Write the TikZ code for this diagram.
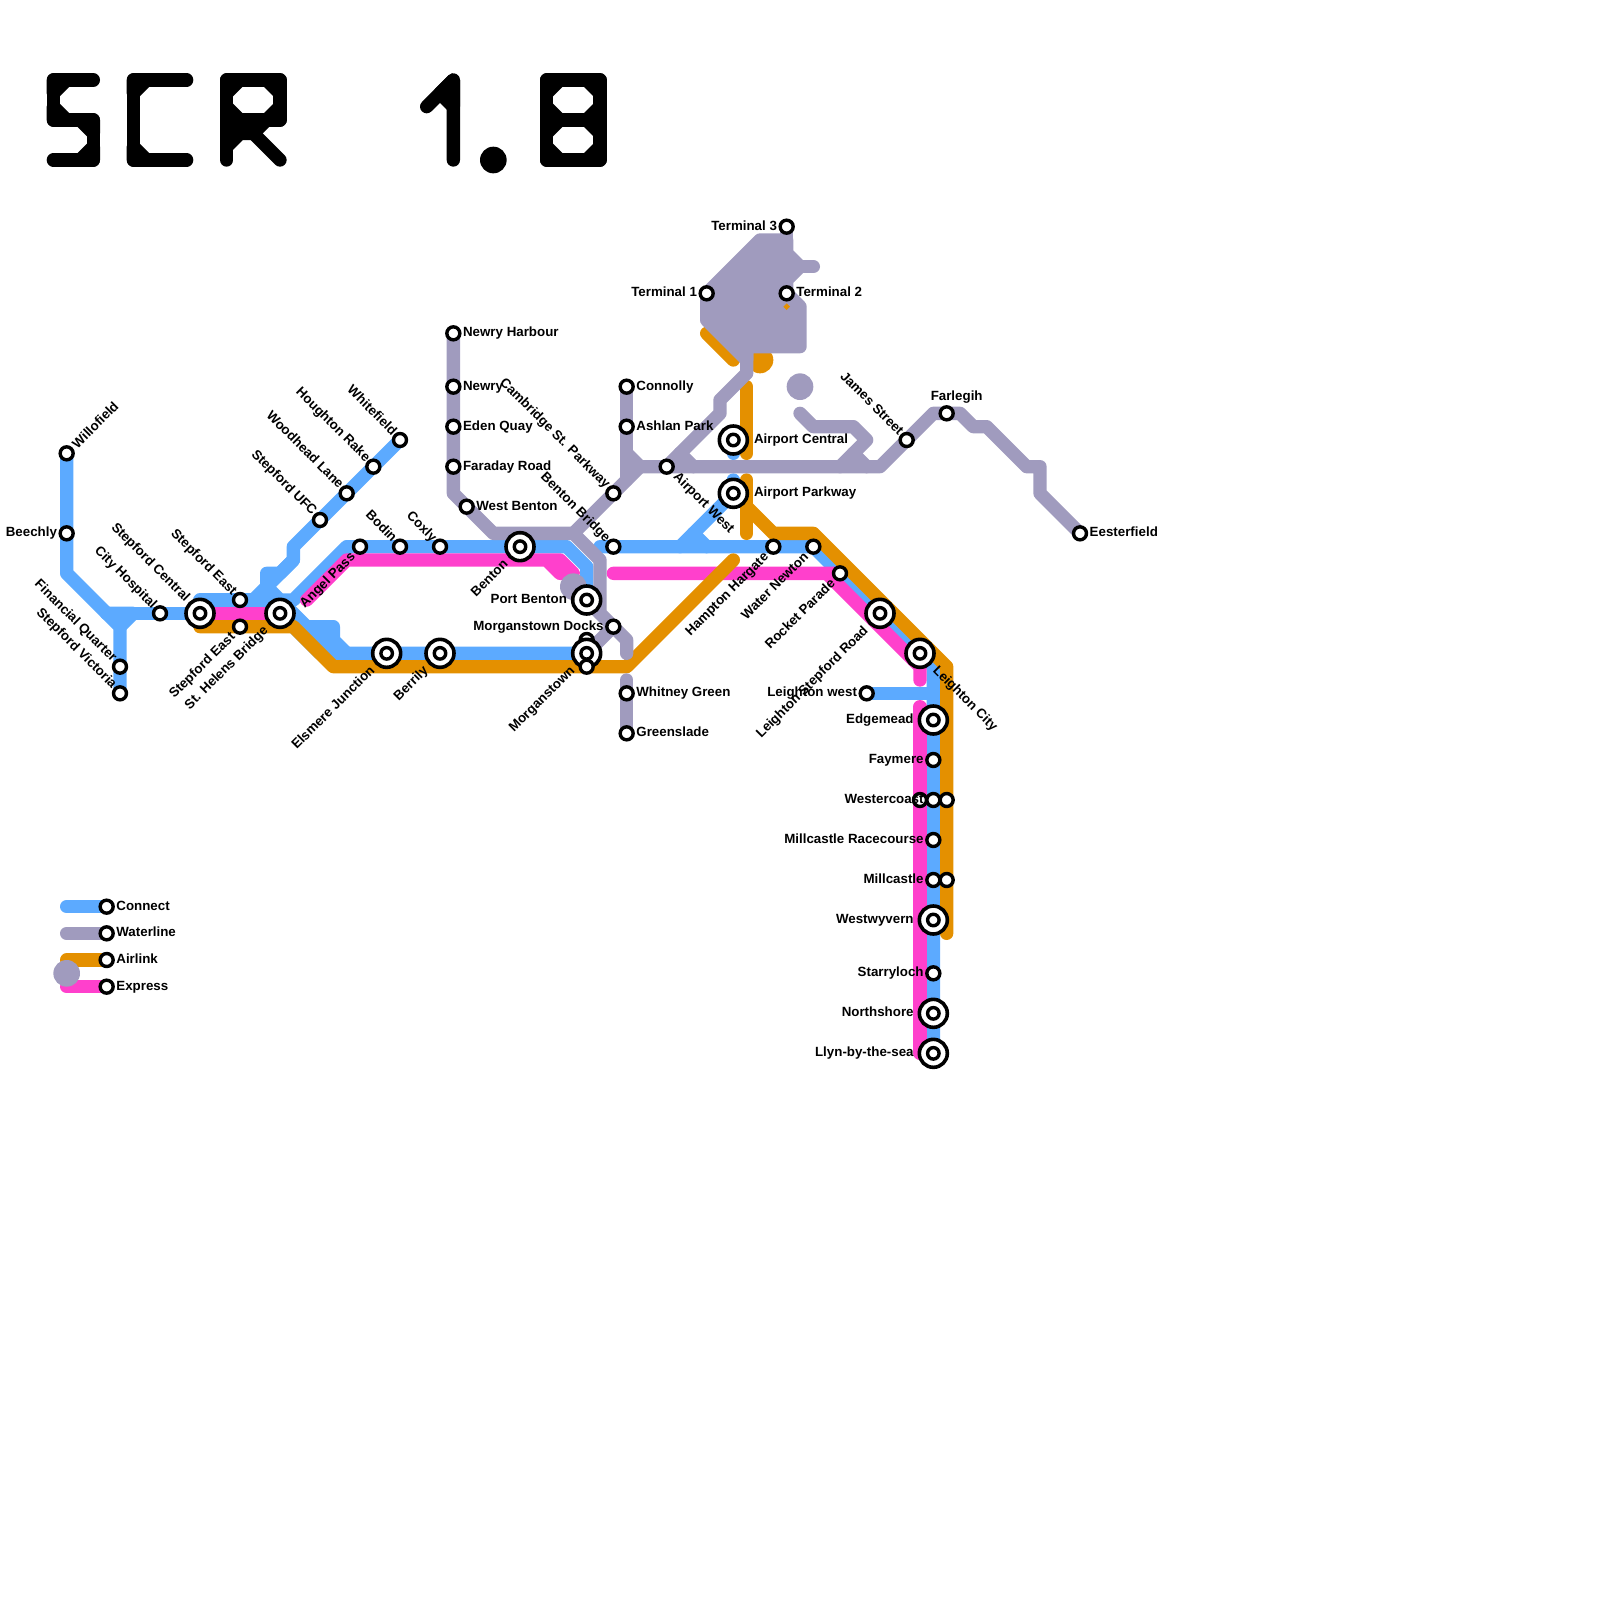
\documentclass[tikz,border=0pt]{standalone}
\usepackage{fontspec}
\setmainfont{Liberation Sans}
\usetikzlibrary{calc}
\definecolor{cblue}{RGB}{92,170,255}
\definecolor{cgray}{RGB}{160,155,190}
\definecolor{corange}{RGB}{228,144,0}
\definecolor{cpink}{RGB}{255,64,204}
\tikzset{
  route/.style={line width=13.333pt,line cap=round,line join=round},
  connect/.style={route,draw=cblue},
  water/.style={route,draw=cgray},
  air/.style={route,draw=corange},
  express/.style={route,draw=cpink},
  ttl/.style={route,draw=black},
  ttf/.style={route,draw=black,fill=black},
  smallst/.style={circle,draw=black,fill=white,line width=3.4pt,inner sep=0pt,outer sep=0pt,minimum size=13pt},
  bigouter/.style={circle,draw=black,fill=white,line width=3.6pt,inner sep=0pt,outer sep=0pt,minimum size=28pt},
  biginner/.style={circle,draw=black,fill=white,line width=3.4pt,inner sep=0pt,outer sep=0pt,minimum size=11.5pt},
  lbl/.style={inner sep=0pt,outer sep=0pt,text height=9.5pt,text depth=0pt,font=\fontsize{13.33}{15}\selectfont\bfseries}
}
\newcommand{\stn}[1]{\node[smallst] (st-#1) at (#1) {};}
\newcommand{\bigst}[1]{\node[bigouter] (st-#1) at (#1) {};\node[biginner] (in-#1) at (#1) {};}
% labels: small offset about .75u, large about 1.5u along the direction of the text
\newcommand{\lL}[2]{\node[lbl,anchor=east] (lb-#1) at ($(#1)+(-.73,-.1)$) {#2};}
\newcommand{\lR}[2]{\node[lbl,anchor=west] (lb-#1) at ($(#1)+(.73,-.1)$) {#2};}
\newcommand{\LL}[2]{\node[lbl,anchor=east] (lb-#1) at ($(#1)+(-1.48,-.1)$) {#2};}
\newcommand{\LR}[2]{\node[lbl,anchor=west] (lb-#1) at ($(#1)+(1.55,-.1)$) {#2};}
\newcommand{\lUL}[2]{\node[lbl,anchor=east,rotate=-45] (lb-#1) at ($(#1)+(-.37,-.57)$) {#2};}
\newcommand{\LUL}[2]{\node[lbl,anchor=east,rotate=-45] (lb-#1) at ($(#1)+(-.9,-1.1)$) {#2};}
\newcommand{\lUR}[2]{\node[lbl,anchor=west,rotate=45] (lb-#1) at ($(#1)+(.57,-.57)$) {#2};}
\newcommand{\lDL}[2]{\node[lbl,anchor=east,rotate=45] (lb-#1) at ($(#1)+(-.57,.57)$) {#2};}
\newcommand{\LDL}[2]{\node[lbl,anchor=east,rotate=45] (lb-#1) at ($(#1)+(-1.1,1.1)$) {#2};}
\newcommand{\lDR}[2]{\node[lbl,anchor=west,rotate=-45] (lb-#1) at ($(#1)+(.72,.57)$) {#2};}
\newcommand{\LDR}[2]{\node[lbl,anchor=west,rotate=-45] (lb-#1) at ($(#1)+(1.18,1.1)$) {#2};}
\begin{document}
\begin{tikzpicture}[x=13.3333pt,y=-13.3333pt]
\useasboundingbox (0,0) rectangle (120,120);
% station positions
\coordinate (willofield) at (5,34);
\coordinate (beechly) at (5,40);
\coordinate (cityhosp) at (12,46);
\coordinate (finq) at (9,50);
\coordinate (stvic) at (9,52);
\coordinate (stcentral) at (15,46);
\coordinate (steastA) at (18,45);
\coordinate (steastB) at (18,47);
\coordinate (sthelens) at (21,46);
\coordinate (stufc) at (24,39);
\coordinate (woodhead) at (26,37);
\coordinate (houghton) at (28,35);
\coordinate (whitefield) at (30,33);
\coordinate (angel) at (27,41);
\coordinate (bodin) at (30,41);
\coordinate (coxly) at (33,41);
\coordinate (benton) at (39,41);
\coordinate (elsmere) at (29,49);
\coordinate (berrily) at (33,49);
\coordinate (portbenton) at (44,45);
\coordinate (morgan) at (44,49);
\coordinate (morganA) at (44,48);
\coordinate (morganB) at (44,50);
\coordinate (docks) at (46,47);
\coordinate (bentonbr) at (46,41);
\coordinate (cambridge) at (46,37);
\coordinate (airwest) at (50,35);
\coordinate (connolly) at (47,29);
\coordinate (ashlan) at (47,32);
\coordinate (harbour) at (34,25);
\coordinate (newry) at (34,29);
\coordinate (eden) at (34,32);
\coordinate (faraday) at (34,35);
\coordinate (westbenton) at (35,38);
\coordinate (whitney) at (47,52);
\coordinate (greenslade) at (47,55);
\coordinate (aircentral) at (55,33);
\coordinate (airparkway) at (55,37);
\coordinate (tthree) at (59,17);
\coordinate (tone) at (53,22);
\coordinate (ttwo) at (59,22);
\coordinate (james) at (68,33);
\coordinate (farlegih) at (71,31);
\coordinate (eesterfield) at (81,40);
\coordinate (hampton) at (58,41);
\coordinate (waternewton) at (61,41);
\coordinate (rocket) at (63,43);
\coordinate (stepfordrd) at (66,46);
\coordinate (leightoncity) at (69,49);
\coordinate (leightonw) at (65,52);
\coordinate (edgemead) at (70,54);
\coordinate (faymere) at (70,57);
\coordinate (westerP) at (69,60);
\coordinate (wester) at (70,60);
\coordinate (westerO) at (71,60);
\coordinate (racecourse) at (70,63);
\coordinate (millcastle) at (70,66);
\coordinate (millcastleO) at (71,66);
\coordinate (westwyvern) at (70,69);
\coordinate (starryloch) at (70,73);
\coordinate (northshore) at (70,76);
\coordinate (llyn) at (70,79);
\coordinate (legA) at (8,68);
\coordinate (legB) at (8,70);
\coordinate (legC) at (8,72);
\coordinate (legD) at (8,74);
% title
\draw[ttl] (7,6)--(4,6)--(4,9)--(7,9)--(7,12)--(4,12);
\draw[ttf] (5,6)--(4,6)--(4,7)--cycle;
\draw[ttf] (4,8)--(4,9)--(5,9)--cycle;
\draw[ttf] (6,9)--(7,9)--(7,10)--cycle;
\draw[ttf] (7,11)--(7,12)--(6,12)--cycle;
\draw[ttl] (14,6)--(10,6)--(10,12)--(14,12);
\draw[ttf] (11,6)--(10,6)--(10,7)--cycle;
\draw[ttf] (10,11)--(10,12)--(11,12)--cycle;
\draw[ttl] (17,12)--(17,6)--(21,6)--(21,9)--(17,9);
\draw[ttf] (18,6)--(17,6)--(17,7)--cycle;
\draw[ttf] (20,6)--(21,6)--(21,7)--cycle;
\draw[ttf] (21,8)--(21,9)--(20,9)--cycle;
\draw[ttf] (18,9)--(17,9)--(17,8)--cycle;
\draw[ttf] (17,9)--(20,9)--(19,10)--(18,10)--(17,11)--cycle;
\draw[ttl] (19,10)--(21,12);
\draw[ttl] (32,8)--(34,6)--(34,12);
\draw[ttf] (34,6)--(33,7)--(34,8)--cycle;
\fill[black] (37,12) circle[radius=1];
\draw[ttl] (41,6) rectangle (45,12);
\draw[ttl] (41,9)--(45,9);
\draw[ttf] (42,6)--(41,6)--(41,7)--cycle;
\draw[ttf] (44,6)--(45,6)--(45,7)--cycle;
\draw[ttf] (41,8)--(41,10)--(42,9)--cycle;
\draw[ttf] (45,8)--(45,10)--(44,9)--cycle;
\draw[ttf] (41,11)--(41,12)--(42,12)--cycle;
\draw[ttf] (45,11)--(45,12)--(44,12)--cycle;
% legend lines
\draw[connect] (5,68)--(legA);
\draw[water] (5,70)--(legB);
\draw[air] (5,72)--(legC);
\draw[express] (5,74)--(legD);
% Connect
\draw[connect] (willofield)--(beechly)--(5,43)--(9,47)--(stvic);
\draw[connect] (9,47)--(10,46)--(8,46);
\draw[connect] (8,46)--(cityhosp)--(stcentral)--(15,45)--(steastA)--(20,45);
\draw[connect] (19,45)--(22,42)--(22,41)--(stufc)--(woodhead)--(houghton)--(whitefield);
\draw[connect] (22,42)--(21,43)--(20,43)--(20,44)--(21,45)--(22,45)--(26,41)--(angel)--(bodin)--(coxly)--(benton)--(42.5,41)--(44,42.5)--(portbenton);
\draw[connect] (20,45)--(sthelens)--(24,49)--(elsmere)--(berrily)--(morgan);
\draw[connect] (21,45)--(25,49);
\draw[connect] (23,47)--(25,47)--(25,48)--(26,49);
\draw[connect] (24,48)--(25,48);
\draw[connect] (45,41)--(bentonbr)--(hampton)--(waternewton)--(stepfordrd)--(leightoncity)--(70,50)--(edgemead)--(faymere)--(wester)--(racecourse)--(millcastle)--(westwyvern)--(starryloch)--(northshore)--(llyn);
\draw[connect] (leightonw)--(70,52);
\draw[connect] (aircentral)--(55,34);
\draw[connect] (55,36)--(airparkway)--(51,41);
\draw[connect] (52,40)--(53,41);
% Express
\draw[express] (stcentral)--(sthelens);
\draw[express] (23,45)--(26,42)--(42,42)--(43,43)--(42,43)--(41,42);
\draw[express] (46,43)--(62,43)--(rocket)--(62,43)--(69,50)--(69,51);
\draw[express] (69,53)--(westerP)--(69,79);
% Airlink
\draw[air] (15,47)--(22,47)--(25,50)--(47,50)--(55,42);
\draw[air] (56,29)--(56,34);
\draw[air] (56,36)--(56,40);
\draw[air] (56,38)--(58,40)--(61,40)--(71,50)--(westerO)--(millcastleO)--(71,70);
\draw[air] (53,25)--(55,27);
\fill[corange] (57,27) circle[radius=1];
% Waterline
\draw[water] (harbour)--(newry)--(eden)--(faraday)--(34,37)--(37,40)--(43,40)--(45,42)--(45,46)--(47,48)--(47,49);
\draw[water] (44,45)--(45,46);
\draw[water] (docks)--(morgan);
\draw[water] (47,51)--(whitney)--(greenslade);
\draw[water] (connolly)--(ashlan)--(47,36);
\draw[water] (47,34)--(48,35)--(66,35)--(70,31)--(72,31)--(73,32)--(74,32)--(77,35)--(78,35)--(78,37)--(eesterfield);
\draw[water] (43,40)--(cambridge)--(48,35);
\draw[water] (56,26)--(56,28)--(54,30)--(54,31)--(airwest);
\draw[water] (51,34)--(52,35);
\draw[water] (60,31)--(61,32)--(64,32)--(65,33)--(63,35);
\draw[water] (64,34)--(65,35);
\draw[route,draw=cgray,fill=cgray] (53,22)--(57,18)--(59,18)--(59,19)--(60,20)--(59,21)--(59,22)--(60,23)--(60,26)--(56,26)--(56,27)--(53,24)--cycle;
\draw[water] (tthree)--(59,18);
\draw[water] (60,20)--(61,20);
\fill[cgray] (43,44) circle[radius=1];
\fill[cgray] (60,29) circle[radius=1];
\fill[cgray] (5,73) circle[radius=1];
\fill[corange] (59,22.75)--(59.25,23)--(59,23.25)--(58.75,23)--cycle;
% stations
\foreach \s in {willofield,beechly,cityhosp,finq,stvic,steastA,steastB,stufc,woodhead,houghton,whitefield,angel,bodin,coxly,docks,bentonbr,cambridge,airwest,connolly,ashlan,harbour,newry,eden,faraday,westbenton,whitney,greenslade,tthree,tone,ttwo,james,farlegih,eesterfield,hampton,waternewton,rocket,leightonw,faymere,westerP,wester,westerO,racecourse,millcastle,millcastleO,starryloch,legA,legB,legC,legD,morganA}{\stn{\s}}
\foreach \s in {stcentral,sthelens,benton,elsmere,berrily,portbenton,morgan,aircentral,airparkway,stepfordrd,leightoncity,edgemead,westwyvern,northshore,llyn}{\bigst{\s}}
\stn{morganB}
% labels
\lUR{willofield}{Willofield}
\lL{beechly}{Beechly}
\lUL{cityhosp}{City Hospital}
\LUL{stcentral}{Stepford Central}
\lUL{steastA}{Stepford East}
\lDL{steastB}{Stepford East}
\LDL{sthelens}{St. Helens Bridge}
\lUL{finq}{Financial Quarter}
\lUL{stvic}{Stepford Victoria}
\lUL{stufc}{Stepford UFC}
\lUL{woodhead}{Woodhead Lane}
\lUL{houghton}{Houghton Rake}
\lUL{whitefield}{Whitefield}
\lDL{angel}{Angel Pass}
\lUL{bodin}{Bodin}
\lUL{coxly}{Coxly}
\LDL{benton}{Benton}
\LDL{elsmere}{Elsmere Junction}
\LDL{berrily}{Berrily}
\LDL{morgan}{Morganstown}
\LL{portbenton}{Port Benton}
\lL{docks}{Morganstown Docks}
\lR{westbenton}{West Benton}
\lR{harbour}{Newry Harbour}
\lR{newry}{Newry}
\lR{eden}{Eden Quay}
\lR{faraday}{Faraday Road}
\lUL{cambridge}{Cambridge St. Parkway}
\lUL{bentonbr}{Benton Bridge}
\lR{connolly}{Connolly}
\lR{ashlan}{Ashlan Park}
\lDR{airwest}{Airport West}
\lR{whitney}{Whitney Green}
\lR{greenslade}{Greenslade}
\lL{tthree}{Terminal 3}
\lL{tone}{Terminal 1}
\lR{ttwo}{Terminal 2}
\LR{aircentral}{Airport Central}
\LR{airparkway}{Airport Parkway}
\lUL{james}{James Street}
\node[lbl,anchor=center] (lb-farlegih) at ($(farlegih)+(.75,-1.35)$) {Farlegih};
\lR{eesterfield}{Eesterfield}
\lDL{hampton}{Hampton Hargate}
\lDL{waternewton}{Water Newton}
\lDL{rocket}{Rocket Parade}
\LDL{stepfordrd}{Leighton Stepford Road}
\LDR{leightoncity}{Leighton City}
\lL{leightonw}{Leighton west}
\LL{edgemead}{Edgemead}
\lL{faymere}{Faymere}
\lL{wester}{Westercoast}
\lL{racecourse}{Millcastle Racecourse}
\lL{millcastle}{Millcastle}
\LL{westwyvern}{Westwyvern}
\lL{starryloch}{Starryloch}
\LL{northshore}{Northshore}
\LL{llyn}{Llyn-by-the-sea}
\lR{legA}{Connect}
\lR{legB}{Waterline}
\lR{legC}{Airlink}
\lR{legD}{Express}
\end{tikzpicture}
\end{document}
